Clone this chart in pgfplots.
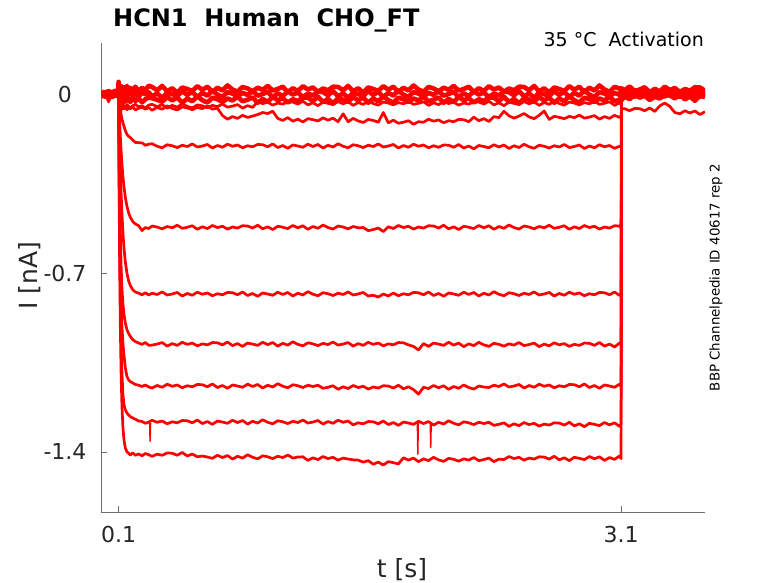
\documentclass[border=0pt]{standalone}
\usepackage{fontspec}
\setmainfont{DejaVu Sans}
\usepackage{pgfplots}
\pgfplotsset{compat=1.18}
\usepackage{pgfplotstable}
\usetikzlibrary{calc}
\definecolor{axgray}{RGB}{110,110,110}
\definecolor{labgray}{RGB}{38,38,38}
\pgfplotstableread{
t a b c e f g h i j k l m
0.000 0.010 0.002 -0.006 0.004 -0.003 0.007 -0.008 0.001 -0.004 0.005 -0.002 0.003
0.020 0.004 0.009 -0.010 -0.002 0.006 -0.005 0.003 -0.007 0.008 -0.003 0.005 -0.006
0.040 0.012 -0.003 -0.002 0.007 -0.030 0.002 -0.004 0.006 -0.001 0.009 -0.007 0.000
0.060 0.006 0.005 -0.012 -0.005 0.002 -0.007 0.008 -0.002 0.004 -0.006 0.001 0.007
0.080 0.013 -0.006 -0.004 0.003 -0.005 0.006 -0.001 0.004 -0.009 0.002 -0.004 -0.003
0.098 0.008 0.001 -0.008 -0.003 0.004 -0.002 0.005 -0.006 0.002 -0.004 0.006 0.001
0.100 0.048 0.030 0.015 0.020 0.010 0.005 0.000 0.000 0.000 0.000 0.000 0.000
0.103 0.030 0.012 -0.014 -0.030 -0.035 -0.025 -0.055 -0.100 -0.200 -0.250 -0.300 -0.365
0.106 0.012 -0.006 -0.028 -0.042 -0.050 -0.045 -0.104 -0.187 -0.370 -0.450 -0.550 -0.636
0.110 0.026 0.008 -0.018 -0.049 -0.058 -0.062 -0.161 -0.285 -0.530 -0.640 -0.780 -0.891
0.115 0.015 -0.010 -0.030 -0.044 -0.052 -0.080 -0.222 -0.386 -0.670 -0.800 -0.970 -1.095
0.120 0.031 0.005 -0.012 -0.051 -0.060 -0.097 -0.272 -0.467 -0.760 -0.910 -1.090 -1.220
0.126 0.010 0.012 -0.025 -0.043 -0.054 -0.112 -0.322 -0.542 -0.820 -0.975 -1.175 -1.305
0.132 0.027 -0.004 -0.033 -0.048 -0.057 -0.126 -0.362 -0.600 -0.860 -1.020 -1.215 -1.352
0.140 0.018 0.009 -0.015 -0.052 -0.050 -0.142 -0.403 -0.655 -0.895 -1.070 -1.235 -1.384
0.150 0.032 -0.012 -0.026 -0.041 -0.061 -0.158 -0.439 -0.701 -0.922 -1.105 -1.248 -1.400
0.160 0.009 0.003 -0.019 -0.047 -0.053 -0.165 -0.465 -0.731 -0.937 -1.118 -1.255 -1.405
0.170 0.024 0.013 -0.031 -0.053 -0.058 -0.170 -0.482 -0.749 -0.948 -1.125 -1.262 -1.412
0.185 0.014 -0.007 -0.011 -0.045 -0.049 -0.180 -0.499 -0.766 -0.961 -1.130 -1.267 -1.404
0.200 0.029 0.006 -0.027 -0.040 -0.062 -0.189 -0.508 -0.774 -0.968 -1.136 -1.272 -1.413
0.220 0.011 -0.011 -0.017 -0.050 -0.055 -0.190 -0.515 -0.779 -0.974 -1.139 -1.279 -1.408
0.240 0.025 0.010 -0.032 -0.046 -0.051 -0.191 -0.534 -0.785 -0.979 -1.144 -1.281 -1.415
0.260 0.016 -0.002 -0.020 -0.054 -0.059 -0.200 -0.522 -0.777 -0.972 -1.138 -1.288 -1.406
0.280 0.033 0.007 -0.013 -0.043 -0.053 -0.196 -0.526 -0.786 -0.983 -1.146 -1.283 -1.411
0.30 0.028 -0.009 -0.016 -0.040 -0.063 -0.194 -0.516 -0.779 -0.982 -1.150 -1.276 -1.417
0.33 0.015 0.003 -0.022 -0.049 -0.052 -0.204 -0.520 -0.784 -0.978 -1.140 -1.284 -1.409
0.36 0.032 -0.014 -0.030 -0.041 -0.059 -0.210 -0.527 -0.774 -0.972 -1.147 -1.279 -1.413
0.39 0.011 0.006 -0.011 -0.055 -0.046 -0.198 -0.518 -0.786 -0.986 -1.135 -1.290 -1.404
0.42 0.023 0.000 -0.025 -0.044 -0.056 -0.202 -0.523 -0.782 -0.976 -1.143 -1.282 -1.405
0.45 0.006 -0.008 -0.013 -0.051 -0.062 -0.209 -0.513 -0.776 -0.983 -1.138 -1.286 -1.413
0.48 0.026 0.011 -0.034 -0.038 -0.050 -0.200 -0.525 -0.790 -0.971 -1.149 -1.277 -1.402
0.51 0.020 -0.003 -0.017 -0.048 -0.054 -0.205 -0.521 -0.780 -0.979 -1.141 -1.278 -1.416
0.54 0.012 0.009 -0.028 -0.054 -0.061 -0.195 -0.515 -0.787 -0.974 -1.145 -1.286 -1.408
0.57 0.031 -0.012 -0.008 -0.042 -0.052 -0.207 -0.529 -0.775 -0.985 -1.136 -1.275 -1.419
0.60 0.017 0.005 -0.024 -0.046 -0.057 -0.203 -0.519 -0.783 -0.977 -1.137 -1.289 -1.416
0.63 0.029 -0.006 -0.033 -0.053 -0.047 -0.197 -0.526 -0.778 -0.981 -1.145 -1.281 -1.420
0.66 0.008 0.014 -0.014 -0.044 -0.059 -0.211 -0.514 -0.789 -0.972 -1.134 -1.292 -1.425
0.69 0.025 -0.002 -0.020 -0.049 -0.055 -0.201 -0.522 -0.781 -0.973 -1.148 -1.279 -1.413
0.72 0.014 -0.011 -0.031 -0.039 -0.084 -0.208 -0.517 -0.785 -0.981 -1.140 -1.283 -1.422
0.75 0.034 0.008 -0.017 -0.051 -0.098 -0.196 -0.528 -0.776 -0.970 -1.151 -1.288 -1.414
0.78 0.018 0.002 -0.025 -0.047 -0.088 -0.204 -0.520 -0.777 -0.984 -1.138 -1.276 -1.428
0.81 0.009 -0.009 -0.010 -0.041 -0.095 -0.199 -0.524 -0.785 -0.976 -1.142 -1.285 -1.417
0.84 0.028 0.005 -0.028 -0.055 -0.083 -0.210 -0.515 -0.774 -0.987 -1.147 -1.277 -1.424
0.87 0.022 -0.003 -0.022 -0.045 -0.091 -0.202 -0.516 -0.788 -0.974 -1.135 -1.291 -1.411
0.90 0.011 0.012 -0.013 -0.052 -0.086 -0.206 -0.524 -0.780 -0.978 -1.144 -1.280 -1.421
0.93 0.025 -0.006 -0.034 -0.029 -0.080 -0.197 -0.513 -0.791 -0.983 -1.136 -1.287 -1.427
0.96 0.017 0.000 -0.019 -0.037 -0.072 -0.198 -0.527 -0.778 -0.971 -1.150 -1.274 -1.415
0.99 0.032 0.009 -0.030 -0.032 -0.076 -0.206 -0.519 -0.782 -0.980 -1.139 -1.284 -1.419
1.02 0.014 -0.012 -0.011 -0.043 -0.067 -0.195 -0.530 -0.787 -0.972 -1.146 -1.290 -1.426
1.05 0.020 0.003 -0.024 -0.035 -0.095 -0.209 -0.517 -0.775 -0.986 -1.133 -1.278 -1.417
1.08 0.029 -0.008 -0.016 -0.039 -0.103 -0.201 -0.521 -0.784 -0.975 -1.143 -1.282 -1.422
1.11 0.008 0.011 -0.033 -0.030 -0.092 -0.212 -0.526 -0.776 -0.982 -1.149 -1.289 -1.412
1.14 0.023 -0.002 -0.020 -0.031 -0.106 -0.199 -0.514 -0.790 -0.969 -1.137 -1.280 -1.424
1.17 0.012 0.006 -0.027 -0.039 -0.098 -0.203 -0.523 -0.779 -0.979 -1.141 -1.285 -1.420
1.20 0.031 -0.011 -0.013 -0.028 -0.109 -0.208 -0.515 -0.786 -0.985 -1.148 -1.275 -1.419
1.23 0.018 0.002 -0.014 -0.042 -0.096 -0.196 -0.529 -0.773 -0.973 -1.139 -1.287 -1.433
1.26 0.026 -0.005 -0.027 -0.034 -0.100 -0.205 -0.518 -0.783 -0.977 -1.144 -1.283 -1.423
1.29 0.009 0.009 -0.010 -0.045 -0.105 -0.197 -0.525 -0.789 -0.984 -1.139 -1.277 -1.430
1.32 0.022 0.008 -0.031 -0.032 -0.093 -0.211 -0.512 -0.777 -0.975 -1.151 -1.291 -1.418
1.35 0.015 -0.005 -0.019 -0.036 -0.102 -0.200 -0.522 -0.781 -0.980 -1.147 -1.281 -1.426
1.38 0.029 0.012 -0.036 -0.041 -0.094 -0.207 -0.528 -0.788 -0.970 -1.141 -1.288 -1.421
1.41 0.028 -0.009 -0.016 -0.029 -0.108 -0.194 -0.516 -0.779 -0.982 -1.155 -1.276 -1.432
1.44 0.015 0.003 -0.022 -0.038 -0.077 -0.204 -0.520 -0.784 -0.978 -1.145 -1.284 -1.424
1.47 0.032 -0.014 -0.030 -0.030 -0.108 -0.210 -0.527 -0.774 -0.972 -1.152 -1.279 -1.428
1.50 0.011 0.006 -0.011 -0.044 -0.095 -0.198 -0.518 -0.786 -0.986 -1.140 -1.294 -1.431
1.53 0.023 0.000 -0.025 -0.033 -0.105 -0.202 -0.523 -0.782 -0.976 -1.148 -1.286 -1.432
1.56 0.006 -0.008 -0.013 -0.040 -0.111 -0.209 -0.522 -0.776 -0.983 -1.143 -1.290 -1.440
1.59 0.026 0.011 -0.034 -0.027 -0.099 -0.200 -0.534 -0.790 -0.971 -1.154 -1.281 -1.434
1.62 0.020 -0.003 -0.017 -0.037 -0.103 -0.205 -0.530 -0.787 -0.979 -1.146 -1.282 -1.448
1.65 0.012 0.009 -0.028 -0.043 -0.110 -0.195 -0.524 -0.794 -0.974 -1.150 -1.290 -1.440
1.68 0.031 -0.012 -0.008 -0.031 -0.072 -0.207 -0.538 -0.782 -0.985 -1.141 -1.279 -1.451
1.71 0.017 0.005 -0.024 -0.035 -0.112 -0.203 -0.519 -0.790 -0.977 -1.142 -1.293 -1.438
1.74 0.029 -0.006 -0.033 -0.042 -0.102 -0.197 -0.526 -0.778 -0.981 -1.150 -1.285 -1.442
1.77 0.008 0.014 -0.014 -0.033 -0.114 -0.211 -0.514 -0.789 -0.972 -1.139 -1.296 -1.447
1.80 0.025 -0.002 -0.020 -0.038 -0.110 -0.201 -0.522 -0.781 -0.973 -1.153 -1.283 -1.423
1.83 0.014 -0.011 -0.031 -0.028 -0.104 -0.208 -0.517 -0.785 -0.981 -1.145 -1.287 -1.432
1.86 0.034 0.008 -0.017 -0.040 -0.118 -0.196 -0.528 -0.776 -0.987 -1.156 -1.292 -1.424
1.89 0.018 0.002 -0.025 -0.036 -0.108 -0.204 -0.520 -0.777 -1.001 -1.174 -1.280 -1.438
1.92 0.009 -0.009 -0.010 -0.030 -0.110 -0.199 -0.524 -0.785 -0.976 -1.147 -1.289 -1.427
1.95 0.028 0.005 -0.028 -0.044 -0.098 -0.210 -0.515 -0.774 -0.987 -1.152 -1.281 -1.434
1.98 0.022 -0.003 -0.022 -0.034 -0.106 -0.202 -0.516 -0.788 -0.974 -1.140 -1.295 -1.421
2.01 0.011 0.012 -0.013 -0.041 -0.101 -0.208 -0.524 -0.780 -0.978 -1.149 -1.284 -1.431
2.04 0.025 -0.006 -0.034 -0.029 -0.112 -0.199 -0.513 -0.791 -0.983 -1.141 -1.291 -1.437
2.07 0.017 0.000 -0.019 -0.037 -0.104 -0.200 -0.527 -0.778 -0.971 -1.155 -1.278 -1.425
2.10 0.032 0.009 -0.030 -0.032 -0.108 -0.208 -0.519 -0.782 -0.982 -1.144 -1.288 -1.429
2.13 0.014 -0.012 -0.011 -0.043 -0.099 -0.197 -0.530 -0.787 -0.974 -1.151 -1.294 -1.436
2.16 0.020 0.003 -0.024 -0.035 -0.100 -0.211 -0.517 -0.775 -0.988 -1.138 -1.282 -1.427
2.19 0.029 -0.008 -0.016 -0.039 -0.108 -0.203 -0.521 -0.784 -0.977 -1.148 -1.286 -1.432
2.22 0.008 0.011 -0.033 -0.030 -0.090 -0.214 -0.526 -0.776 -0.984 -1.154 -1.293 -1.422
2.25 0.023 -0.002 -0.020 -0.031 -0.104 -0.201 -0.514 -0.790 -0.971 -1.142 -1.284 -1.434
2.28 0.012 0.006 -0.027 -0.039 -0.096 -0.205 -0.523 -0.779 -0.981 -1.146 -1.289 -1.430
2.31 0.031 -0.011 -0.013 -0.028 -0.107 -0.210 -0.515 -0.786 -0.987 -1.148 -1.284 -1.424
2.34 0.018 0.002 -0.014 -0.042 -0.088 -0.198 -0.529 -0.773 -0.975 -1.139 -1.296 -1.438
2.37 0.026 -0.005 -0.027 -0.034 -0.092 -0.207 -0.518 -0.783 -0.979 -1.144 -1.292 -1.428
2.40 0.009 0.009 -0.010 -0.045 -0.067 -0.199 -0.525 -0.789 -0.986 -1.134 -1.286 -1.430
2.43 0.022 0.008 -0.031 -0.032 -0.085 -0.213 -0.512 -0.777 -0.977 -1.146 -1.300 -1.418
2.46 0.015 -0.005 -0.019 -0.036 -0.094 -0.202 -0.522 -0.781 -0.982 -1.142 -1.290 -1.426
2.49 0.029 0.012 -0.036 -0.041 -0.086 -0.209 -0.528 -0.788 -0.972 -1.136 -1.297 -1.421
2.52 0.028 -0.009 -0.016 -0.029 -0.076 -0.196 -0.516 -0.779 -0.984 -1.150 -1.285 -1.432
2.55 0.015 0.003 -0.022 -0.038 -0.089 -0.206 -0.520 -0.784 -0.980 -1.140 -1.293 -1.424
2.58 0.032 -0.014 -0.030 -0.030 -0.096 -0.212 -0.527 -0.774 -0.974 -1.147 -1.288 -1.428
2.61 0.011 0.006 -0.011 -0.044 -0.083 -0.200 -0.518 -0.786 -0.988 -1.135 -1.299 -1.419
2.64 0.023 0.000 -0.025 -0.033 -0.066 -0.204 -0.523 -0.782 -0.978 -1.143 -1.291 -1.420
2.67 0.006 -0.008 -0.013 -0.040 -0.099 -0.211 -0.513 -0.776 -0.985 -1.138 -1.295 -1.428
2.70 0.026 0.011 -0.034 -0.027 -0.087 -0.202 -0.525 -0.790 -0.973 -1.149 -1.286 -1.417
2.73 0.020 -0.003 -0.017 -0.037 -0.091 -0.207 -0.521 -0.780 -0.981 -1.141 -1.287 -1.431
2.76 0.012 0.009 -0.028 -0.043 -0.096 -0.197 -0.515 -0.787 -0.976 -1.145 -1.295 -1.423
2.79 0.031 -0.012 -0.008 -0.031 -0.087 -0.209 -0.529 -0.775 -0.987 -1.136 -1.284 -1.434
2.82 0.017 0.005 -0.024 -0.035 -0.092 -0.205 -0.519 -0.783 -0.979 -1.137 -1.298 -1.421
2.85 0.029 -0.006 -0.033 -0.042 -0.082 -0.199 -0.526 -0.778 -0.983 -1.145 -1.290 -1.425
2.88 0.008 0.014 -0.014 -0.033 -0.094 -0.213 -0.514 -0.789 -0.974 -1.134 -1.301 -1.430
2.91 0.025 -0.002 -0.020 -0.038 -0.090 -0.203 -0.522 -0.781 -0.975 -1.148 -1.288 -1.418
2.94 0.014 -0.011 -0.031 -0.028 -0.084 -0.210 -0.517 -0.785 -0.983 -1.140 -1.292 -1.427
2.97 0.034 0.008 -0.017 -0.040 -0.098 -0.198 -0.528 -0.776 -0.972 -1.151 -1.297 -1.419
3.00 0.018 0.002 -0.025 -0.036 -0.088 -0.206 -0.520 -0.777 -0.986 -1.138 -1.285 -1.433
3.03 0.009 -0.009 -0.010 -0.030 -0.095 -0.201 -0.524 -0.785 -0.978 -1.142 -1.294 -1.422
3.06 0.028 0.005 -0.028 -0.044 -0.083 -0.212 -0.515 -0.774 -0.989 -1.147 -1.286 -1.429
3.09 0.022 -0.003 -0.022 -0.034 -0.091 -0.204 -0.516 -0.788 -0.974 -1.135 -1.300 -1.416
3.099 0.011 0.012 -0.013 -0.041 -0.086 -0.208 -0.524 -0.780 -0.980 -1.144 -1.289 -1.426
3.102 0.023 -0.004 -0.024 0.007 -0.057 0.016 0.008 -0.017 0.007 0.000 0.001 -0.010
3.12 0.015 0.002 -0.009 -0.001 -0.057 0.015 -0.006 -0.004 0.019 -0.014 0.014 0.002
3.15 0.030 0.011 -0.020 0.004 -0.065 0.007 0.002 -0.008 0.010 -0.003 0.004 -0.002
3.18 0.012 -0.010 -0.001 -0.007 -0.056 0.018 -0.009 -0.013 0.018 -0.010 -0.002 -0.009
3.21 0.018 0.005 -0.014 0.001 -0.057 0.004 0.004 -0.001 0.004 0.003 0.010 0.000
3.24 0.027 -0.006 -0.006 -0.003 -0.065 0.012 0.000 -0.010 0.015 -0.007 0.006 -0.005
3.27 0.006 0.013 -0.023 0.006 -0.054 0.001 -0.005 -0.002 0.008 -0.013 -0.001 0.005
3.30 0.021 0.000 -0.010 0.005 -0.068 0.014 0.007 -0.016 0.021 -0.001 0.008 -0.007
3.33 0.010 0.008 -0.017 -0.003 -0.046 0.010 -0.002 -0.005 0.011 -0.005 0.003 -0.003
3.36 0.029 -0.009 -0.003 0.008 -0.035 0.005 0.006 -0.012 0.005 -0.012 0.013 0.003
3.39 0.016 0.004 -0.004 -0.006 -0.048 0.017 -0.008 0.001 0.017 -0.003 0.001 -0.011
3.42 0.024 -0.003 -0.017 0.002 -0.072 0.008 0.003 -0.009 0.013 -0.008 0.005 -0.001
3.45 0.007 0.011 0.000 -0.009 -0.077 0.016 -0.004 -0.015 0.006 0.002 0.011 -0.008
3.48 0.020 0.010 -0.021 0.004 -0.065 0.002 0.009 -0.003 0.015 -0.010 -0.003 0.004
3.51 0.013 -0.003 -0.009 0.000 -0.074 0.013 -0.001 -0.007 0.010 -0.006 0.007 -0.004
3.54 0.027 0.014 -0.026 -0.005 -0.066 0.006 -0.007 -0.014 0.020 0.000 0.000 0.001
3.57 0.026 -0.007 -0.006 0.007 -0.080 0.019 0.005 -0.005 0.008 -0.014 0.012 -0.010
3.60 0.013 0.005 -0.012 -0.002 -0.069 0.009 0.001 -0.010 0.012 -0.004 0.004 -0.002
}\data

\begin{document}
\begin{tikzpicture}
\begin{axis}[name=ax, at={(0,0)}, anchor=south west,
  scale only axis, width=604bp, height=469bp,
  xmin=-0.005, xmax=3.6, ymin=-1.635, ymax=0.2,
  axis lines=left,
  axis line style={draw=axgray, line width=0.8bp, -},
  tick align=inside, major tick length=6bp,
  tick style={draw=axgray, line width=0.8bp},
  xtick={0.1,3.1}, xticklabels={0.1,3.1},
  ytick={-1.4,-0.7,0}, yticklabels={-1.4,-0.7,0},
  tick label style={font=\fontsize{22bp}{26bp}\selectfont, text=labgray},
  xticklabel style={anchor=base, yshift=-30bp},
  yticklabel style={anchor=center, xshift=-36bp},
  no markers,
  tr/.style={red, line width=2.7bp, line join=round},
]
\addplot[tr, line width=4.6bp] table[x=t,y=a]{\data};
\addplot[tr, line width=4.6bp] table[x=t,y=b]{\data};
\addplot[tr, line width=4.6bp] table[x=t,y=c]{\data};
\addplot[tr] table[x=t,y=e]{\data};
\addplot[tr] table[x=t,y=f]{\data};
\addplot[tr] table[x=t,y=g]{\data};
\addplot[tr] table[x=t,y=h]{\data};
\addplot[tr] table[x=t,y=i]{\data};
\addplot[tr] table[x=t,y=j]{\data};
\addplot[tr] table[x=t,y=k]{\data};
\addplot[tr] table[x=t,y=l]{\data};
\addplot[tr] table[x=t,y=m]{\data};
\addplot[red, line width=1.4bp] coordinates {(0.285,-1.286) (0.288,-1.360) (0.291,-1.286)};
\addplot[red, line width=1.4bp] coordinates {(1.883,-1.287) (1.886,-1.410) (1.889,-1.287)};
\addplot[red, line width=1.4bp] coordinates {(1.960,-1.287) (1.963,-1.385) (1.966,-1.287)};
\end{axis}
\pgfresetboundingbox
\path[use as bounding box] ($(ax.south west)+(-101bp,-71bp)$) rectangle ($(ax.south west)+(677bp,512bp)$);
\node[anchor=base west, inner sep=0pt, font=\fontsize{24bp}{28bp}\selectfont\bfseries] at ($(ax.south west)+(12bp,485bp)$) {HCN1\ \ Human\ \ CHO\_FT};
\node[anchor=base east, inner sep=0pt, font=\fontsize{19bp}{23bp}\selectfont] at ($(ax.south west)+(603bp,465bp)$) {35 °C\ \ Activation};
\node[rotate=90, inner sep=0pt, font=\fontsize{13.4bp}{16bp}\selectfont] at ($(ax.south west)+(615bp,234.5bp)$) {BBP Channelpedia ID 40617 rep 2};
\node[anchor=base, inner sep=0pt, text=labgray, font=\fontsize{25bp}{30bp}\selectfont] at ($(ax.south west)+(301bp,-65bp)$) {t [s]};
\node[rotate=90, inner sep=0pt, text=labgray, font=\fontsize{25bp}{30bp}\selectfont] at ($(ax.south west)+(-71bp,236bp)$) {I [nA]};
\end{tikzpicture}
\end{document}
